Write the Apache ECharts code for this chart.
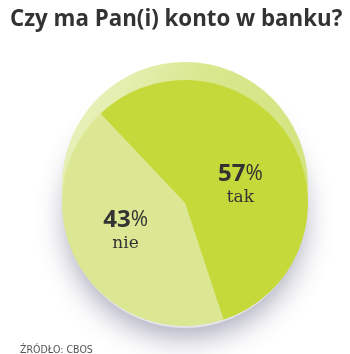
<!DOCTYPE html>
<html><head><meta charset="utf-8">
<script src="https://cdn.jsdelivr.net/npm/echarts@6/dist/echarts.min.js"></script>
<style>html,body{margin:0;padding:0;background:#fff}#c{width:350px;height:354px}</style>
</head><body><div id="c"></div>
<script>
const titleText = 'Czy ma Pan(i) konto w banku?';
const sourceText = 'ŹRÓDŁO: CBOS';
const categories = ['tak', 'nie'];
const values = [57, 43];
const colors = ['#c6d93b', '#dce793'];

const chart = echarts.init(document.getElementById('c'), null, {renderer: 'canvas'});
const startAngle = 133.4;
chart.setOption({
  animation: false,
  title: [{
    text: titleText, left: 5, top: 4,
    textStyle: {fontFamily: 'Open Sans', fontWeight: 'bold', fontSize: 22.3, color: '#333333'}
  }, {
    text: sourceText, left: 15, top: 340,
    textStyle: {fontFamily: 'DejaVu Sans Condensed', fontWeight: 'normal', fontSize: 10.5, color: '#555555'}
  }],
  series: [{
    type: 'pie', silent: true, z: 1,
    center: [185, 208], radius: [0, 120],
    label: {show: false}, labelLine: {show: false},
    data: [{value: 1, itemStyle: {color: '#e4e4ea', shadowBlur: 28, shadowOffsetY: 10, shadowColor: 'rgba(70,70,110,0.45)'}}]
  }, {
    type: 'pie', silent: true, z: 2,
    center: [185, 185], radius: [0, 123],
    label: {show: false}, labelLine: {show: false},
    data: [{value: 1, itemStyle: {color: new echarts.graphic.LinearGradient(0, 0, 1, 0.6, [
      {offset: 0, color: '#f0f5d0'}, {offset: 0.45, color: '#d9e78e'}, {offset: 1, color: '#d3e37d'}])}}]
  }, {
    type: 'pie', z: 3,
    center: [185, 203], radius: [0, 123],
    startAngle: startAngle, clockwise: true,
    data: categories.map((c, i) => ({name: c, value: values[i], itemStyle: {color: colors[i]}})),
    label: {
      position: 'inside',
      formatter: p => '{n|' + p.value + '}{p|%}\n{t|' + p.name + '}',
      rich: {
        n: {fontFamily: 'Open Sans', fontWeight: 'bold', fontSize: 24, color: '#333333', lineHeight: 26},
        p: {fontFamily: 'Open Sans', fontWeight: 'normal', fontSize: 21, color: '#333333', lineHeight: 26},
        t: {fontFamily: 'DejaVu Serif', fontSize: 17, color: '#333333', lineHeight: 22}
      }
    },
    labelLayout: p => p.dataIndex === 0 ? {dx: 0, dy: 15} : {dx: -4, dy: -5},
    labelLine: {show: false}
  }]
});
</script></body></html>
